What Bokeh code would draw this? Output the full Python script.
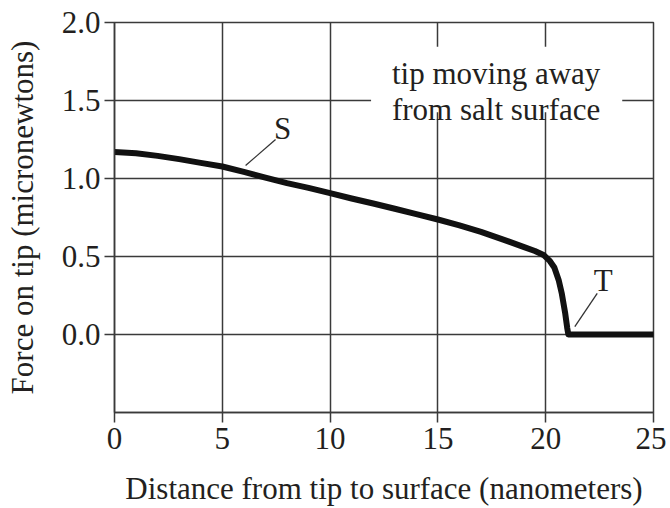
from bokeh.plotting import figure
from bokeh.models import FixedTicker, PrintfTickFormatter, Label, BoxAnnotation, Range1d
from bokeh.embed import file_html
from bokeh.resources import INLINE

# Data
distance = [0, 1, 2, 3, 4, 5, 6, 7, 8, 9, 10, 11, 12, 13, 14, 15, 16, 17, 18, 19,
            19.5, 19.9, 20.2, 20.4, 20.6, 20.75, 20.9, 21.0, 21.05, 22, 23, 24, 25]
force = [1.17, 1.162, 1.145, 1.124, 1.10, 1.077, 1.042, 1.005, 0.97, 0.94, 0.906,
         0.872, 0.84, 0.806, 0.772, 0.737, 0.70, 0.658, 0.61, 0.56,
         0.535, 0.51, 0.47, 0.43, 0.35, 0.26, 0.14, 0.04, 0.0, 0.0, 0.0, 0.0, 0.0]

x_ticks = [0, 5, 10, 15, 20, 25]
y_ticks = [0.0, 0.5, 1.0, 1.5, 2.0]
y_grid = [-0.5, 0.0, 0.5, 1.0, 1.5, 2.0]

FONT = "Liberation Serif"
TXT = "#231f20"
GRID = "#3a3a3a"
FS = "31px"

p = figure(width=666, height=508, output_backend="svg", toolbar_location=None,
           x_range=Range1d(0, 25), y_range=Range1d(-0.5, 2.0),
           min_border_left=114, min_border_right=13, min_border_top=22, min_border_bottom=95)
p.background_fill_color = "white"
p.border_fill_color = "white"
p.outline_line_color = GRID
p.outline_line_width = 1.5

p.xaxis.ticker = FixedTicker(ticks=x_ticks)
p.yaxis.ticker = FixedTicker(ticks=y_ticks)
p.xgrid.ticker = FixedTicker(ticks=x_ticks)
p.ygrid.ticker = FixedTicker(ticks=y_grid)
p.yaxis.formatter = PrintfTickFormatter(format="%.1f")
for g in (p.xgrid, p.ygrid):
    g.grid_line_color = GRID
    g.grid_line_width = 1.5
for ax in (p.xaxis, p.yaxis):
    ax.axis_line_color = GRID
    ax.axis_line_width = 1.5
    ax.major_tick_line_color = GRID
    ax.major_tick_line_width = 1.5
    ax.major_tick_out = 10
    ax.major_tick_in = 0
    ax.minor_tick_line_color = None
    ax.major_label_text_font = FONT
    ax.major_label_text_font_size = FS
    ax.major_label_text_color = TXT
    ax.axis_label_text_font = FONT
    ax.axis_label_text_font_size = FS
    ax.axis_label_text_font_style = "normal"
    ax.axis_label_text_color = TXT
p.xaxis.axis_label = "Distance from tip to surface (nanometers)"
p.yaxis.axis_label = "Force on tip (micronewtons)"
p.xaxis.major_label_standoff = 5
p.yaxis.major_label_standoff = 4
p.xaxis.axis_label_standoff = 19
p.yaxis.axis_label_standoff = 19

p.line(distance, force, line_color="#111111", line_width=6, line_join="round", line_cap="round")

# annotation with white background
p.add_layout(BoxAnnotation(left=11.9, right=23.55, bottom=1.425, top=1.845,
                           fill_color="white", fill_alpha=1.0, line_alpha=0))
p.add_layout(Label(x=17.7, y=1.67, text="tip moving away", text_align="center",
                   text_baseline="middle", text_font=FONT, text_font_size=FS, text_color=TXT))
p.add_layout(Label(x=17.7, y=1.445, text="from salt surface", text_align="center",
                   text_baseline="middle", text_font=FONT, text_font_size=FS, text_color=TXT))

# S and T labels with leaders
p.line([6.08, 7.47], [1.083, 1.25], line_color="#333333", line_width=1.3)
p.add_layout(Label(x=7.8, y=1.32, text="S", text_align="center", text_baseline="middle",
                   text_font=FONT, text_font_size=FS, text_color=TXT))
p.line([21.35, 22.39], [0.05, 0.263], line_color="#333333", line_width=1.3)
p.add_layout(Label(x=22.67, y=0.345, text="T", text_align="center", text_baseline="middle",
                   text_font=FONT, text_font_size=FS, text_color=TXT))

open("out.html", "w").write(file_html(p, INLINE))
